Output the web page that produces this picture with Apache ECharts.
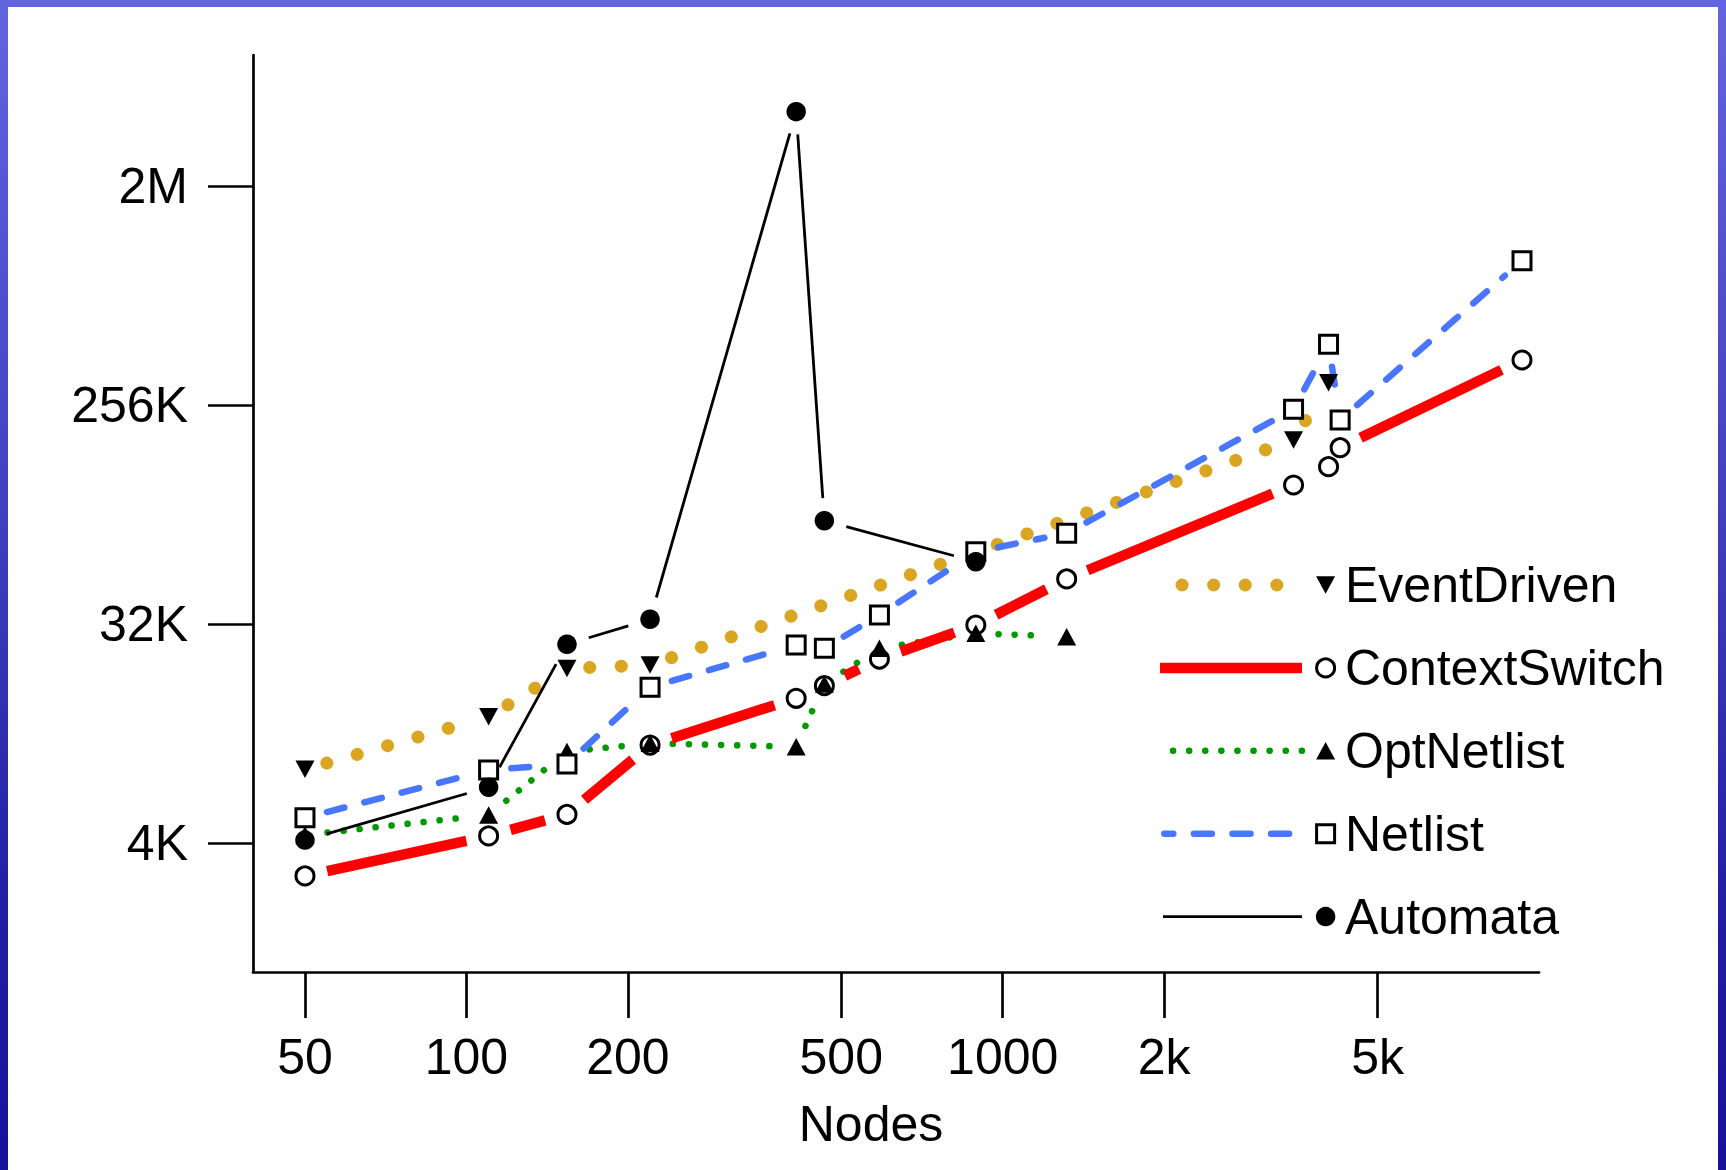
<!DOCTYPE html>
<html>
<head>
<meta charset="utf-8">
<script src="https://cdn.jsdelivr.net/npm/echarts@6/dist/echarts.min.js"></script>
<style>
html, body { margin: 0; padding: 0; width: 1726px; height: 1170px; overflow: hidden; }
body { position: relative; background: linear-gradient(to bottom, #6264e0 0%, #3d3fbf 45%, #1f1ca2 80%, #16139a 100%); }
#panel { position: absolute; left: 8px; top: 7px; width: 1710px; height: 1163px; background: #ffffff; }
#chart { position: absolute; left: 0; top: 0; width: 1726px; height: 1170px; }
</style>
</head>
<body>
<div id="panel"></div>
<div id="chart"></div>
<script>
// ---------------- data ----------------
const xTickValues = [50, 100, 200, 500, 1000, 2000, 5000];
const xTickLabels = ['50', '100', '200', '500', '1000', '2k', '5k'];
const yTickValues = [4096, 32768, 262144, 2097152];
const yTickLabels = ['4K', '32K', '256K', '2M'];
const xAxisName = 'Nodes';

const seriesNames = ['EventDriven', 'ContextSwitch', 'OptNetlist', 'Netlist', 'Automata'];

const eventDrivenNodes  = [50, 110, 154, 220, 891, 3486, 4051];
const eventDrivenValues = [8280, 13650, 21600, 22300, 65200, 188900, 325500];

const contextSwitchNodes  = [50, 110, 154, 220, 412, 465, 589, 891, 1316, 3486, 4051, 4258, 9296];
const contextSwitchValues = [3010, 4400, 5400, 10430, 16260, 18330, 23600, 32600, 50500, 123200, 146600, 175600, 403700];

const optNetlistNodes  = [50, 110, 154, 220, 412, 465, 589, 891, 1316];
const optNetlistValues = [4440, 5370, 9800, 10600, 10270, 18630, 26140, 30130, 29190];

const netlistNodes  = [50, 110, 154, 220, 412, 465, 589, 891, 1316, 3486, 4051, 4258, 9296];
const netlistValues = [5230, 8230, 8710, 18050, 26970, 26140, 35860, 65400, 77900, 252900, 468600, 228400, 1037000];

const automataNodes  = [50, 110, 154, 220, 412, 465, 891];
const automataValues = [4230, 6990, 27160, 34420, 4268000, 87800, 59480];

// ---------------- styles ----------------
const FONT = "'Liberation Sans', Arial, Helvetica, sans-serif";
const GAP = 22.7;
const defs = [
  { name: seriesNames[0], xs: eventDrivenNodes, ys: eventDrivenValues,
    line: { stroke: '#DAA520', lineWidth: 13, lineDash: [0.1, 31.5], lineCap: 'round' },
    symbol: 'triangle', rotate: 180, size: [19, 17.5], item: { color: '#000', borderWidth: 0 },
    legendLine: [1182, 1302], lineZ: 2 },
  { name: seriesNames[1], xs: contextSwitchNodes, ys: contextSwitchValues,
    line: { stroke: '#FF0000', lineWidth: 10.5, lineCap: 'butt' },
    symbol: 'circle', rotate: 0, size: 18, item: { color: '#fff', borderColor: '#000', borderWidth: 3 },
    legendLine: [1160, 1302], lineZ: 4 },
  { name: seriesNames[2], xs: optNetlistNodes, ys: optNetlistValues,
    line: { stroke: '#009A00', lineWidth: 6.5, lineDash: [0.1, 16], lineCap: 'round' },
    symbol: 'triangle', rotate: 0, size: [19, 17.5], item: { color: '#000', borderWidth: 0 },
    legendLine: [1173, 1302], lineZ: 1 },
  { name: seriesNames[3], xs: netlistNodes, ys: netlistValues,
    line: { stroke: '#4876FF', lineWidth: 6.5, lineDash: [18, 20.6], lineCap: 'round' },
    symbol: 'rect', rotate: 0, size: 18, item: { color: '#fff', borderColor: '#000', borderWidth: 3 },
    legendLine: [1164.3, 1302], legendDashOffset: 8.5, lineZ: 3 },
  { name: seriesNames[4], xs: automataNodes, ys: automataValues,
    line: { stroke: '#000000', lineWidth: 2.8, lineCap: 'butt' },
    symbol: 'circle', rotate: 0, size: 19.5, item: { color: '#000', borderWidth: 0 },
    legendLine: [1163, 1302], lineZ: 5 }
];

function pairs(xs, ys) { return xs.map((x, i) => [x, ys[i]]); }
function segments(xs, ys) {
  const out = [];
  for (let i = 0; i < xs.length - 1; i++) out.push([xs[i], ys[i], xs[i + 1], ys[i + 1]]);
  return out;
}
function nearestLabel(v, vals, labels) {
  let best = 0, bd = Infinity;
  vals.forEach((t, i) => { const d = Math.abs(Math.log(v) - Math.log(t)); if (d < bd) { bd = d; best = i; } });
  return labels[best];
}

function makeRenderer(style) {
  return function (params, api) {
    const p0 = api.coord([api.value(0), api.value(1)]);
    const p1 = api.coord([api.value(2), api.value(3)]);
    const dx = p1[0] - p0[0], dy = p1[1] - p0[1];
    const len = Math.sqrt(dx * dx + dy * dy);
    if (!(len > 2 * GAP)) return null;
    const ux = dx / len, uy = dy / len;
    return {
      type: 'line',
      shape: { x1: p0[0] + ux * GAP, y1: p0[1] + uy * GAP, x2: p1[0] - ux * GAP, y2: p1[1] - uy * GAP },
      style: Object.assign({ fill: null }, style)
    };
  };
}

const series = [];
// lines (custom series, gaps around points like R type="b")
defs.forEach(d => {
  series.push({
    type: 'custom',
    name: d.name + ' line',
    coordinateSystem: 'cartesian2d',
    dimensions: ['x0', 'y0', 'x1', 'y1'],
    encode: { x: ['x0', 'x1'], y: ['y0', 'y1'] },
    data: segments(d.xs, d.ys),
    renderItem: makeRenderer(d.line),
    clip: false,
    silent: true,
    z: d.lineZ,
    animation: false
  });
});
// markers
defs.forEach((d, i) => {
  series.push({
    type: 'scatter',
    name: d.name,
    data: pairs(d.xs, d.ys),
    symbol: d.symbol,
    symbolSize: d.size,
    symbolRotate: d.rotate,
    itemStyle: Object.assign({ opacity: 1 }, d.item),
    emphasis: { disabled: true },
    silent: true,
    z: 10 + i,
    animation: false
  });
});

// legend drawn as graphic elements
const legendGraphics = [];
const rowY0 = 585, rowStep = 82.9, markX = 1325.6, textX = 1345;
defs.forEach((d, i) => {
  const y = rowY0 + i * rowStep;
  const ls = Object.assign({ fill: null }, d.line);
  if (d.legendDashOffset) ls.lineDashOffset = d.legendDashOffset;
  legendGraphics.push({ type: 'line', shape: { x1: d.legendLine[0], y1: y, x2: d.legendLine[1], y2: y }, style: ls, silent: true, z: 20 });
  let mk;
  if (d.symbol === 'circle') {
    mk = { type: 'circle', shape: { cx: markX, cy: y, r: d.size / 2 },
           style: { fill: d.item.color, stroke: d.item.borderColor || null, lineWidth: d.item.borderWidth || 0 } };
  } else if (d.symbol === 'rect') {
    mk = { type: 'rect', shape: { x: markX - d.size / 2, y: y - d.size / 2, width: d.size, height: d.size },
           style: { fill: d.item.color, stroke: d.item.borderColor, lineWidth: d.item.borderWidth } };
  } else {
    const w = d.size[0] / 2, h = d.size[1] / 2;
    const pts = d.rotate === 180 ? [[markX - w, y - h], [markX + w, y - h], [markX, y + h]]
                                 : [[markX, y - h], [markX + w, y + h], [markX - w, y + h]];
    mk = { type: 'polygon', shape: { points: pts }, style: { fill: '#000' } };
  }
  mk.silent = true; mk.z = 21;
  legendGraphics.push(mk);
  legendGraphics.push({ type: 'text', x: textX, y: y, silent: true, z: 21,
    style: { text: d.name, fill: '#000', font: '50px ' + FONT, textAlign: 'left', textVerticalAlign: 'middle', verticalAlign: 'middle' } });
});

const chart = echarts.init(document.getElementById('chart'), null, { renderer: 'svg', width: 1726, height: 1170 });
chart.setOption({
  animation: false,
  backgroundColor: 'transparent',
  textStyle: { fontFamily: FONT },
  grid: { left: 253, right: 187, top: 55, bottom: 198, containLabel: false, outerBoundsMode: 'none' },
  xAxis: {
    type: 'log', logBase: 10, min: 40, max: 10000,
    name: xAxisName, nameLocation: 'middle', nameGap: 127,
    nameTextStyle: { fontSize: 50, color: '#000', fontFamily: FONT, padding: [0, 50, 0, 0] },
    axisLine: { show: true, onZero: false, lineStyle: { color: '#000', width: 2.7 } },
    axisTick: { show: true, inside: false, length: 46, customValues: xTickValues, lineStyle: { color: '#000', width: 2.7 } },
    axisLabel: { show: true, margin: 60, customValues: xTickValues, fontSize: 50, color: '#000', fontFamily: FONT,
      formatter: v => nearestLabel(v, xTickValues, xTickLabels) },
    splitLine: { show: false }, minorTick: { show: false }, minorSplitLine: { show: false }
  },
  yAxis: {
    type: 'log', logBase: 8, min: 1209, max: 7308000,
    axisLine: { show: true, onZero: false, lineStyle: { color: '#000', width: 2.7 } },
    axisTick: { show: true, inside: false, length: 45, customValues: yTickValues, lineStyle: { color: '#000', width: 2.7 } },
    axisLabel: { show: true, margin: 65, customValues: yTickValues, fontSize: 50, color: '#000', fontFamily: FONT,
      formatter: v => nearestLabel(v, yTickValues, yTickLabels) },
    splitLine: { show: false }, minorTick: { show: false }, minorSplitLine: { show: false }
  },
  graphic: { elements: legendGraphics },
  series: series
});
</script>
</body>
</html>
